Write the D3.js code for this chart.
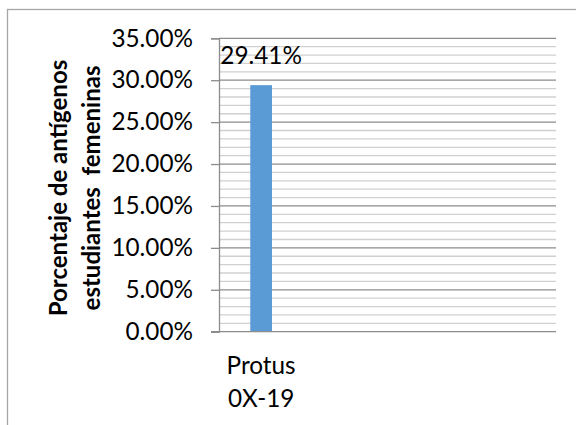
<!DOCTYPE html>
<html>
<head>
<meta charset="utf-8">
<script src="https://cdn.jsdelivr.net/npm/d3@7"></script>
<style>
  html, body { margin: 0; padding: 0; background: #fff; }
  svg { display: block; }
  text { font-family: Lato, "Open Sans", sans-serif; fill: #000; }
</style>
</head>
<body>
<script>
// ---- data ----
const categories = ["Protus\n0X-19", "", "", ""];
const values = [0.2941, null, null, null];
const yTicks = [0, 0.05, 0.10, 0.15, 0.20, 0.25, 0.30, 0.35];
const yMinorStep = 0.01;
const yTitleLines = ["Porcentaje de antígenos", "estudiantes  femeninas"];

// ---- layout ----
const W = 576, H = 425;
const plot = { left: 219, right: 556, top: 38.3, bottom: 331.7 };
const fs = 24.3;

const svg = d3.select("body").append("svg").attr("width", W).attr("height", H);

// outer chart border
svg.append("rect")
  .attr("x", 7.5).attr("y", 9.5).attr("width", 700).attr("height", 600)
  .attr("fill", "none").attr("stroke", "#a6a6a6").attr("stroke-width", 1.3);

const x = d3.scaleBand()
  .domain(d3.range(categories.length))
  .range([plot.left, plot.right])
  .paddingInner(0.742).paddingOuter(0.371);

const y = d3.scaleLinear().domain([0, 0.35]).range([plot.bottom, plot.top]);

// minor gridlines
const minor = d3.range(0, 0.35 + 1e-9, yMinorStep).filter(v => Math.abs(v / 0.05 - Math.round(v / 0.05)) > 1e-6);
svg.append("g").selectAll("line").data(minor).join("line")
  .attr("x1", plot.left).attr("x2", plot.right)
  .attr("y1", d => y(d)).attr("y2", d => y(d))
  .attr("stroke", "#d0d0d0").attr("stroke-width", 1.3);

// major gridlines
svg.append("g").selectAll("line").data(yTicks.slice(1)).join("line")
  .attr("x1", plot.left).attr("x2", plot.right)
  .attr("y1", d => y(d)).attr("y2", d => y(d))
  .attr("stroke", "#8c8c8c").attr("stroke-width", 1.3);

// bars
svg.append("g").selectAll("rect").data(values.map((v, i) => ({ v, i })).filter(d => d.v != null)).join("rect")
  .attr("x", d => x(d.i)).attr("width", x.bandwidth())
  .attr("y", d => y(d.v)).attr("height", d => y(0) - y(d.v))
  .attr("fill", "#5b9bd5");

// y axis
const yAxis = svg.append("g")
  .attr("transform", `translate(${plot.left},0)`)
  .call(d3.axisLeft(y).tickValues(yTicks).tickFormat(d3.format(".2%")).tickSize(8).tickPadding(18));
yAxis.select(".domain").attr("stroke", "#8c8c8c").attr("stroke-width", 1.3);
yAxis.selectAll(".tick line").attr("stroke", "#8c8c8c").attr("stroke-width", 1.3);
yAxis.selectAll(".tick text").attr("font-size", fs).attr("fill", "#000")
  .style("font-family", "Lato, sans-serif");

// x axis line
const xAxis = svg.append("g")
  .attr("transform", `translate(0,${plot.bottom})`)
  .call(d3.axisBottom(x).tickSize(0).tickFormat(""));
xAxis.select(".domain").attr("stroke", "#8c8c8c").attr("stroke-width", 1.3)
  .attr("d", `M${plot.left - 8},0H${plot.right}`);

// category labels
const catG = svg.append("g");
categories.forEach((c, i) => {
  if (!c) return;
  const t = catG.append("text")
    .attr("x", x(i) + x.bandwidth() / 2).attr("y", 374)
    .attr("text-anchor", "middle").attr("font-size", fs);
  c.split("\n").forEach((line, k) => {
    t.append("tspan").attr("x", x(i) + x.bandwidth() / 2).attr("dy", k === 0 ? 0 : 32.7).text(line);
  });
});

// data labels
svg.append("g").selectAll("text").data(values.map((v, i) => ({ v, i })).filter(d => d.v != null)).join("text")
  .attr("x", d => x(d.i) + x.bandwidth() / 2)
  .attr("y", d => y(d.v) - 21)
  .attr("text-anchor", "middle").attr("font-size", fs)
  .text(d => d3.format(".2%")(d.v));

// y axis title
const titleCY = 188;
const tt = svg.append("text")
  .attr("transform", `translate(67,${titleCY}) rotate(-90)`)
  .attr("text-anchor", "middle").attr("font-weight", "bold").attr("font-size", 24);
yTitleLines.forEach((line, k) => {
  tt.append("tspan").attr("x", 0).attr("y", k * 33).attr("xml:space", "preserve")
    .style("white-space", "pre").text(line);
});
</script>
</body>
</html>
